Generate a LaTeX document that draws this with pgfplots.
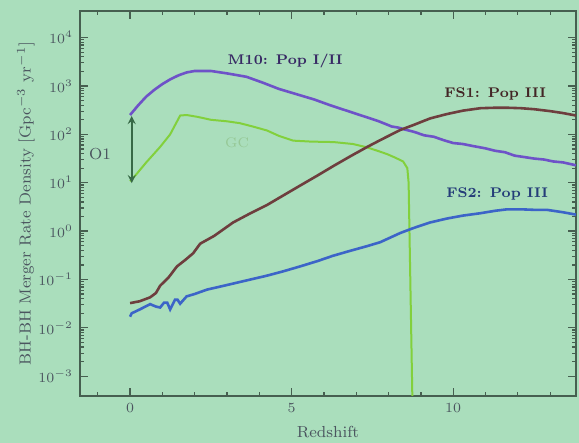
\documentclass[border=0pt]{standalone}
\usepackage{pgfplots}
\pgfplotsset{compat=1.18}
\definecolor{bg}{RGB}{170,222,188}
\definecolor{axc}{RGB}{70,95,80}
\definecolor{txt}{RGB}{75,85,95}
\definecolor{mten}{RGB}{110,82,200}
\definecolor{fsone}{RGB}{110,62,62}
\definecolor{fstwo}{RGB}{60,100,200}
\definecolor{gcc}{RGB}{130,208,60}
\definecolor{gctxt}{RGB}{150,200,150}
\definecolor{arr}{RGB}{55,105,70}
\begin{document}
\begin{tikzpicture}
\fill[bg] (0,0) rectangle (289.5pt,221.5pt);
\begin{axis}[
  at={(40pt,23.5pt)}, anchor=south west,
  width=248pt, height=192.5pt, scale only axis,
  ymode=log,
  xmin=-1.55, xmax=13.8,
  ymin=3.9e-4, ymax=35481,
  xtick={0,5,10},
  minor xtick={-1,1,2,3,4,6,7,8,9,11,12,13},
  ytick={1e-3,1e-2,1e-1,1,1e1,1e2,1e3,1e4},
  tick align=inside,
  major tick length=4pt, minor tick length=2pt,
  axis line style={axc, line width=1pt},
  every tick/.style={axc, line width=0.6pt},
  tick label style={font=\scriptsize, text=txt},
  xlabel={Redshift},
  ylabel={BH-BH Merger Rate Density [Gpc$^{-3}$ yr$^{-1}$]},
  label style={font=\footnotesize, text=txt},
  ylabel style={yshift=-5pt},
]
% M10: Pop I/II
\addplot[mten, line width=1.3pt] coordinates {
(0.0,251) (0.25,398) (0.5,603) (0.75,832) (1.0,1096) (1.25,1380) (1.5,1660) (1.75,1905)
(2.0,2042) (2.5,2042) (3.0,1820) (3.6,1549) (4.1,1175) (4.6,871) (5.1,692) (5.7,525)
(6.2,398) (6.7,309) (7.2,240) (7.7,186) (8.1,145) (8.3,138) (8.5,126) (8.8,112) (9.1,95.5)
(9.4,89.1) (9.7,75.9) (10.0,66.1) (10.3,63.1) (10.6,57.5) (11.0,51.3) (11.3,45.7)
(11.6,42.7) (11.9,36.3) (12.2,33.9) (12.5,31.6) (12.8,30.2) (13.1,27.5) (13.4,26.3) (13.8,22.9)
};
% GC
\addplot[gcc, line width=1pt] coordinates {
(0.0,10.7) (0.2,15.1) (0.5,26.3) (0.93,55.0) (1.24,100) (1.55,245) (1.75,251) (2.1,229)
(2.5,200) (3.0,186) (3.4,170) (3.8,145) (4.24,120) (4.6,93.3) (5.05,74.1) (5.6,70.8)
(6.3,69.2) (6.9,63.1) (7.34,53.7) (7.7,44.7) (7.96,38.9) (8.2,33.1) (8.45,27.5)
(8.58,20.0) (8.62,10) (8.75,1e-4)
};
% FS1: Pop III
\addplot[fsone, line width=1.3pt] coordinates {
(0.0,0.0324) (0.3,0.0355) (0.62,0.0427) (0.8,0.0525) (0.93,0.0741) (1.2,0.112) (1.45,0.186)
(1.7,0.251) (1.95,0.347) (2.17,0.550) (2.6,0.794) (3.19,1.51) (3.7,2.29) (4.24,3.47)
(4.75,5.50) (5.26,8.71) (5.8,14.1) (6.28,21.9) (6.8,34.7) (7.34,55.0) (7.74,75.9)
(8.36,123) (8.76,155) (9.29,214) (9.81,263) (10.3,309) (10.84,347) (11.3,355) (11.67,355)
(12.1,347) (12.5,331) (13.0,302) (13.4,275) (13.8,245)
};
% FS2: Pop III
\addplot[fstwo, line width=1.3pt] coordinates {
(0.0,0.0170) (0.05,0.0200) (0.3,0.0240) (0.62,0.0309) (0.8,0.0275) (0.93,0.0263)
(1.05,0.0331) (1.15,0.0331) (1.24,0.0240) (1.39,0.0380) (1.47,0.0380) (1.55,0.0316)
(1.75,0.0447) (2.0,0.0501) (2.38,0.0617) (2.9,0.0741) (3.41,0.0891) (4.24,0.120)
(4.75,0.148) (5.26,0.186) (5.8,0.240) (6.28,0.309) (6.8,0.389) (7.34,0.490) (7.74,0.589)
(8.36,0.912) (8.76,1.15) (9.29,1.51) (9.81,1.82) (10.3,2.09) (10.84,2.34) (11.3,2.63)
(11.67,2.82) (12.1,2.82) (12.5,2.75) (12.9,2.75) (13.4,2.45) (13.8,2.19)
};
\draw[arr, line width=0.8pt, <->, >=stealth] (axis cs:0.05,240) -- (axis cs:0.05,9.8);
\node[font=\footnotesize, text=txt] at (axis cs:-0.93,39.8) {O1};
\node[font=\scriptsize\bfseries, text=mten!50!black] at (axis cs:4.8,3236) {M10: Pop I/II};
\node[font=\scriptsize\bfseries, text=fsone!60!black] at (axis cs:11.3,676) {FS1: Pop III};
\node[font=\scriptsize\bfseries, text=fstwo!60!black] at (axis cs:11.36,5.75) {FS2: Pop III};
\node[font=\scriptsize, text=gctxt] at (axis cs:3.31,66) {GC};
\end{axis}
\pgfresetboundingbox
\path[use as bounding box] (0,0) rectangle (289.5pt,221.5pt);
\end{tikzpicture}
\end{document}
